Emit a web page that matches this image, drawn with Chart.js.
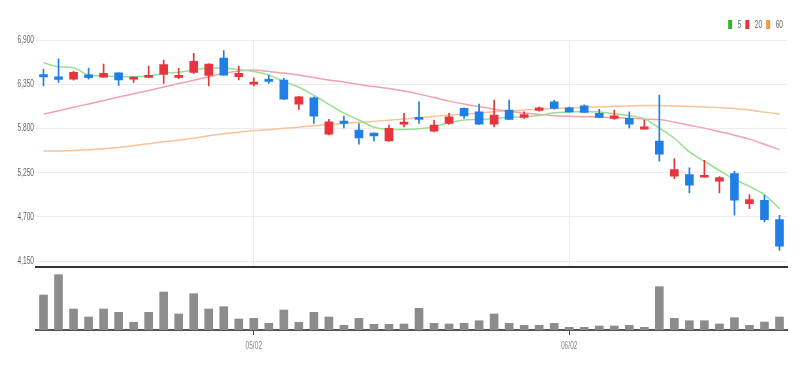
<!DOCTYPE html>
<html><head><meta charset="utf-8">
<script src="https://cdn.jsdelivr.net/npm/chart.js@4.4.0/dist/chart.umd.min.js"></script>
<style>
html,body{margin:0;padding:0;background:#fff;}
#wrap{position:relative;width:804px;height:371px;overflow:hidden;}
.box{position:absolute;left:0;width:804px;}
</style></head><body>
<div id="wrap">
<div class="box" style="top:0;height:276px"><canvas id="pc" width="804" height="276"></canvas></div>
<div class="box" style="top:268px;height:103px"><canvas id="vc" width="804" height="103"></canvas></div>
</div>
<script>
const dates = ['04/11','04/12','04/13','04/14','04/17','04/18','04/19','04/20','04/21','04/24','04/25','04/26','04/27','04/28','05/02','05/03','05/04','05/08','05/09','05/10','05/11','05/12','05/15','05/16','05/17','05/18','05/19','05/22','05/23','05/24','05/25','05/26','05/30','05/31','06/01','06/02','06/05','06/07','06/08','06/09','06/12','06/13','06/14','06/15','06/16','06/19','06/20','06/21','06/22','06/23'];
const shownDates = ['05/02','06/02'];
const opens  = [6470,6443,6414,6468,6439,6493,6414,6435,6473,6435,6498,6460,6676,6443,6352,6410,6402,6103,6181,5728,5891,5779,5741,5646,5853,5937,5766,5862,6049,6007,5854,6028,5937,6024,6131,6057,6082,5987,5925,5925,5791,5642,5206,5227,5193,5144,5239,4866,4907,4666];
const highs  = [6535,6667,6510,6551,6601,6493,6440,6576,6651,6547,6734,6605,6767,6576,6430,6464,6423,6200,6190,5912,5953,5862,5745,5841,5987,6131,5903,5987,6055,6103,6153,6153,6007,6065,6150,6065,6095,6037,6028,6007,5903,6215,5426,5309,5405,5200,5268,4978,4969,4720];
const lows   = [6330,6373,6400,6414,6435,6336,6373,6430,6360,6418,6485,6330,6460,6402,6330,6360,6160,6037,5862,5720,5807,5604,5645,5640,5820,5862,5758,5850,5925,5850,5820,5910,5925,6015,6040,6005,5998,5935,5912,5808,5790,5393,5177,4998,5190,4998,4720,4803,4637,4284];
const closes = [6440,6410,6498,6430,6485,6402,6435,6451,6593,6460,6635,6601,6464,6485,6373,6385,6165,6194,5953,5882,5862,5683,5708,5800,5878,5912,5841,5945,5957,5854,5966,5912,5974,6057,6049,6007,6000,5937,5957,5854,5820,5480,5289,5094,5218,5189,4907,4916,4666,4337];
const ma5  = [6617,6567,6555,6464,6452,6443,6443,6452,6485,6498,6526,6551,6550,6532,6508,6463,6385,6312,6210,6100,5990,5905,5815,5788,5787,5795,5822,5872,5905,5912,5925,5940,5945,5962,5995,6003,6012,6005,5982,5958,5920,5805,5678,5508,5392,5277,5168,5080,4975,4803];
const ma20 = [5978,6020,6063,6105,6148,6190,6231,6273,6316,6358,6400,6443,6485,6514,6526,6508,6489,6464,6433,6402,6377,6346,6321,6296,6265,6227,6184,6140,6103,6072,6040,6015,5991,5972,5959,5953,5947,5941,5934,5928,5916,5910,5878,5841,5804,5760,5716,5667,5604,5536];
const ma60 = [5521,5521,5526,5536,5548,5563,5586,5611,5636,5654,5679,5710,5735,5754,5773,5785,5804,5816,5835,5850,5863,5876,5888,5903,5918,5934,5949,5966,5978,5993,6007,6018,6028,6038,6047,6055,6063,6069,6075,6080,6084,6084,6080,6074,6068,6059,6047,6028,6003,5978];
const volumes = [700,1106,420,260,420,354,154,354,760,320,726,420,466,220,234,134,400,154,354,260,94,234,114,114,120,434,134,120,134,186,320,134,94,94,134,54,54,80,80,94,54,866,234,186,186,120,246,94,160,260];
const priceTicks = [4150,4700,5250,5800,6350,6900];
const maLabels = ['5','20','60'];

const FONT = "'Liberation Sans','Arial',sans-serif";
const RED = '#e8343c', BLUE = '#1f7fe6';
const LEG = ['#2db82d','#e8343c','#f59a3c'];
const LINE = ['#9adf93','#f3a1aa','#f8c396'];
const candleColors = opens.map((o,i)=> closes[i] >= o ? RED : BLUE);

// narrow text rendering (real text, horizontally condensed)
const SX = 0.6;
function condense(canvas){
  const ctx = canvas.getContext('2d');
  const fT = ctx.fillText.bind(ctx);
  const mT = ctx.measureText.bind(ctx);
  ctx.fillText = function(t,x,y){ ctx.save(); ctx.translate(x,y); ctx.scale(SX,1); fT(t,0,0); ctx.restore(); };
  ctx.measureText = function(t){ const m = mT(t); return {width:m.width*SX, actualBoundingBoxAscent:m.actualBoundingBoxAscent, actualBoundingBoxDescent:m.actualBoundingBoxDescent, actualBoundingBoxLeft:m.actualBoundingBoxLeft*SX, actualBoundingBoxRight:m.actualBoundingBoxRight*SX}; };
  return canvas;
}

new Chart(condense(document.getElementById('pc')), {
  type:'bar',
  data:{labels:dates, datasets:[
    {type:'line', label:maLabels[0], data:ma5, borderColor:LINE[0], backgroundColor:LEG[0], borderWidth:1.5, pointRadius:0, cubicInterpolationMode:'monotone', order:5},
    {type:'line', label:maLabels[1], data:ma20, borderColor:LINE[1], backgroundColor:LEG[1], borderWidth:1.5, pointRadius:0, cubicInterpolationMode:'monotone', order:6},
    {type:'line', label:maLabels[2], data:ma60, borderColor:LINE[2], backgroundColor:LEG[2], borderWidth:1.5, pointRadius:0, cubicInterpolationMode:'monotone', order:7},
    {label:'wick', data:lows.map((l,i)=>[l,highs[i]]), backgroundColor:candleColors, barThickness:1, grouped:false, order:1},
    {label:'body', data:opens.map((o,i)=>[o,closes[i]]), backgroundColor:candleColors, barThickness:8, minBarLength:2, grouped:false, order:0}
  ]},
  options:{
    responsive:false, animation:false,
    layout:{padding:{left:0,right:17,top:15,bottom:0}},
    plugins:{
      tooltip:{enabled:false},
      legend:{display:true, position:'top', align:'end',
        labels:{boxWidth:4, boxHeight:9, padding:4, color:'#666', font:{family:FONT,size:11},
          generateLabels:(chart)=> maLabels.map((t,i)=>({text:t, fillStyle:LEG[i], strokeStyle:LEG[i], lineWidth:0, hidden:false, datasetIndex:i, fontColor:'#666'}))
        }}
    },
    scales:{
      x:{
        ticks:{display:false},
        grid:{offset:false, drawTicks:false, color:(ctx)=> (ctx.index!==undefined && shownDates.includes(dates[ctx.index])) ? '#ececec' : 'rgba(0,0,0,0)'},
        border:{display:true, color:'#333', width:2},
        afterFit:(s)=>{ s.height = 1; }
      },
      y:{
        min:4072, max:6900,
        afterBuildTicks:(axis)=>{ axis.ticks = priceTicks.map(v=>({value:v})); },
        afterFit:(s)=>{ s.width = 36; },
        ticks:{padding:2, color:'#666', font:{family:FONT,size:11}, callback:(v)=> Number(v).toLocaleString('en-US')},
        grid:{color:'#ececec', drawTicks:false},
        border:{display:false}
      }
    }
  }
});

new Chart(condense(document.getElementById('vc')), {
  type:'bar',
  data:{labels:dates, datasets:[{label:'volume', data:volumes, backgroundColor:'#8c8c8c', barThickness:8}]},
  options:{
    responsive:false, animation:false,
    layout:{padding:{left:36,right:17,top:2,bottom:0}},
    plugins:{legend:{display:false}, tooltip:{enabled:false}},
    scales:{
      x:{
        grid:{offset:false, drawOnChartArea:false, tickLength:5, tickColor:(ctx)=> (ctx.index!==undefined && shownDates.includes(dates[ctx.index])) ? '#444' : 'rgba(0,0,0,0)'},
        border:{display:true, color:'#555', width:2},
        ticks:{autoSkip:false, maxRotation:0, padding:4, color:'#888', font:{family:FONT,size:11},
          callback:(v,i)=> shownDates.includes(dates[i]) ? dates[i] : ''},
        afterFit:(s)=>{ s.height = 41; }
      },
      y:{display:false, min:0, max:1200}
    }
  }
});
</script>
</body></html>
